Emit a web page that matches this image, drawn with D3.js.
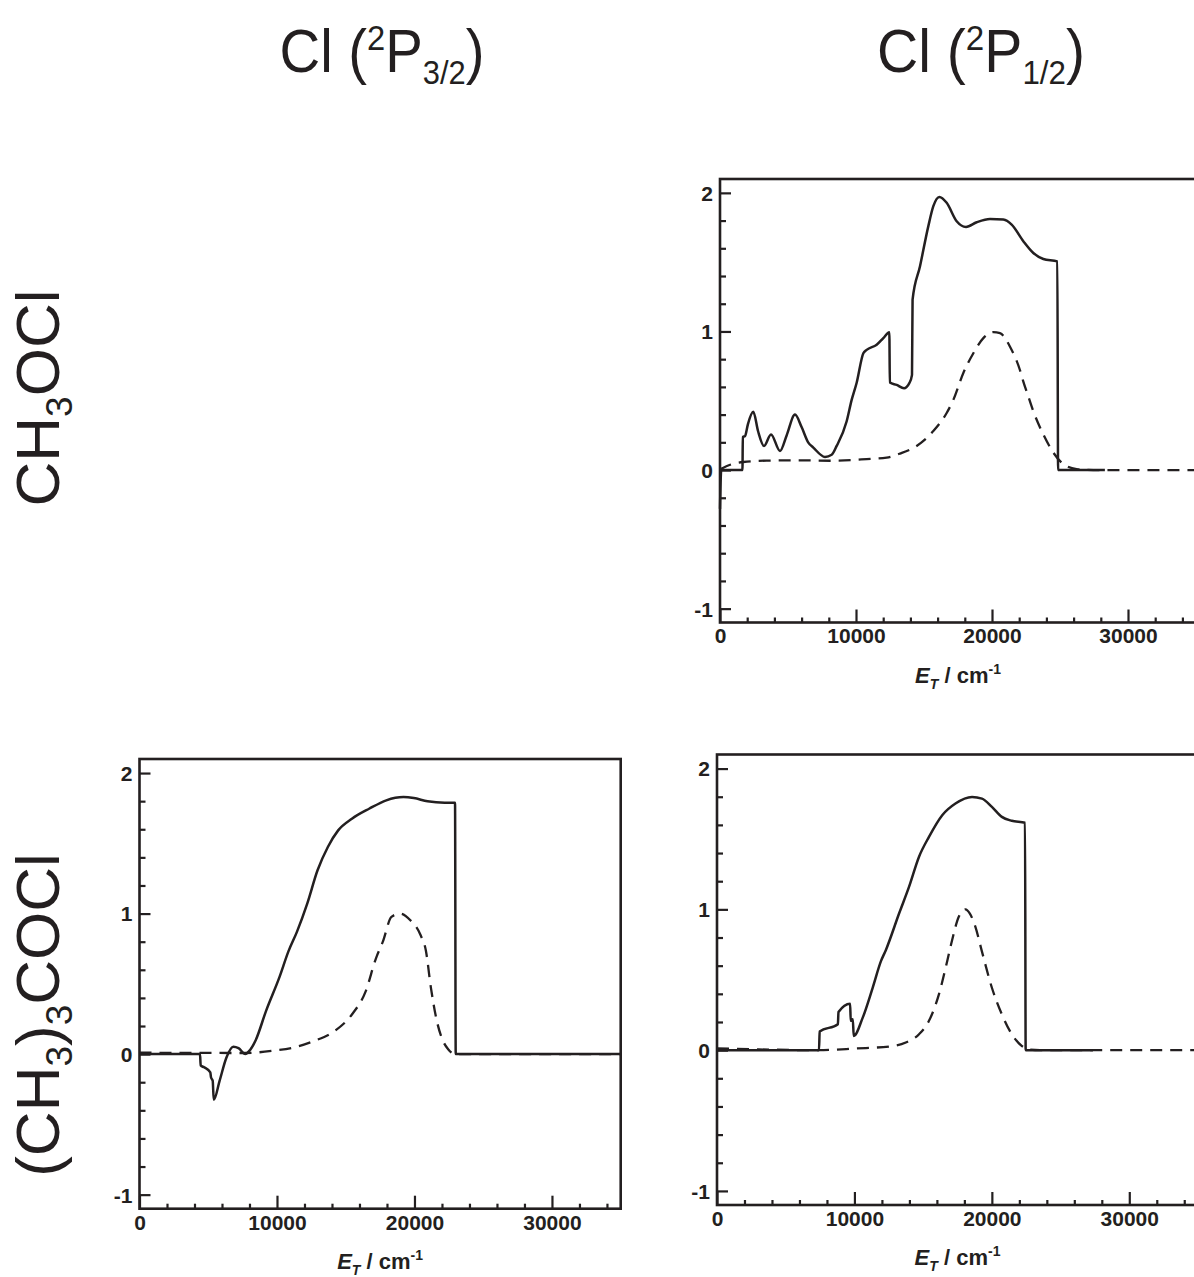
<!DOCTYPE html>
<html><head><meta charset="utf-8">
<script src="https://cdn.jsdelivr.net/npm/d3@7"></script>
<style>body{margin:0;background:#fff} svg{display:block}</style>
</head><body>
<svg id="c" width="1194" height="1277"></svg>
<script>
// ---------- data ----------
const xDomain = [0, 35000];
const yDomain = [-1.1, 2.1];
const xMajorTicks = [0, 10000, 20000, 30000];
const xTickLabels = ["0", "10000", "20000", "30000"];
const yMajorTicks = [-1, 0, 1, 2];
const yTickLabels = ["-1", "0", "1", "2"];
const xMinorTicks = [2000,4000,6000,8000,12000,14000,16000,18000,22000,24000,26000,28000,32000,34000];
const yMinorTicks = [-0.8,-0.6,-0.4,-0.2,0.2,0.4,0.6,0.8,1.2,1.4,1.6,1.8];

const colTitles = [
  {lead: "Cl (", sup: "2", mid: "P", sub: "3/2", tail: ")"},
  {lead: "Cl (", sup: "2", mid: "P", sub: "1/2", tail: ")"}
];
const rowTitles = [
  [["CH",0],["3",1],["OCl",0]],
  [["(CH",0],["3",1],[")",0],["3",1],["COCl",0]]
];

// CH3OCl, Cl(2P1/2)
const trSolid = [[0,-0.28],[90,0],[1650,0],[1680,0.238],[1840,0.245],[2050,0.33],[2450,0.42],[2800,0.28],[3235,0.174],[3750,0.257],[4412,0.138],[4900,0.25],[5515,0.40],[6000,0.31],[6495,0.198],[6863,0.162],[7721,0.095],[8211,0.11],[8579,0.174],[9314,0.352],[9681,0.506],[10049,0.63],[10539,0.843],[10784,0.867],[11520,0.904],[12010,0.952],[12451,0.995],[12490,0.631],[12990,0.614],[13530,0.59],[13922,0.627],[14118,0.687],[14160,1.229],[14706,1.47],[15319,1.76],[15686,1.904],[16128,1.971],[16667,1.928],[17402,1.795],[18089,1.754],[18873,1.788],[19853,1.812],[20834,1.807],[21446,1.771],[22304,1.651],[23039,1.566],[23775,1.523],[24804,1.506],[24860,0],[28300,0]];
const trDashed = [[0,0.005],[800,0.04],[1716,0.058],[3431,0.068],[5882,0.07],[8333,0.067],[10784,0.079],[12255,0.09],[13235,0.119],[14461,0.174],[15686,0.281],[16667,0.412],[17157,0.506],[17892,0.70],[18628,0.843],[19363,0.952],[20098,0.995],[20588,0.988],[21324,0.89],[22059,0.72],[22304,0.638],[22672,0.53],[23039,0.424],[23775,0.257],[24510,0.126],[25245,0.043],[26226,0.007],[27451,0],[35000,0]];

// (CH3)3COCl, Cl(2P3/2)
const blSolid = [[0,0],[4400,0],[4450,-0.08],[4700,-0.094],[5150,-0.13],[5200,-0.165],[5325,-0.19],[5400,-0.325],[5825,-0.19],[6325,-0.024],[6825,0.052],[7200,0.042],[7700,0.0],[7950,0.019],[8450,0.099],[9200,0.306],[10200,0.553],[10825,0.729],[11450,0.87],[12200,1.071],[12950,1.308],[13700,1.474],[14450,1.592],[15450,1.675],[16700,1.746],[17950,1.806],[19200,1.829],[19950,1.822],[20950,1.799],[22200,1.789],[22950,1.789],[23000,0],[35000,0]];
const blDashed = [[0,0.01],[7700,0.008],[9700,0.024],[11200,0.047],[12700,0.094],[14200,0.165],[15450,0.282],[16450,0.447],[17200,0.682],[17700,0.80],[18325,0.976],[18950,1.0],[19700,0.953],[20450,0.846],[20825,0.739],[21200,0.47],[21575,0.259],[22075,0.094],[22450,0.035],[22950,0],[35000,0]];

// (CH3)3COCl, Cl(2P1/2)
const brSolid = [[0,0],[7423,0],[7470,0.132],[8797,0.184],[8840,0.271],[9688,0.33],[9730,0.208],[9881,0.219],[9950,0.101],[10604,0.231],[11327,0.443],[11930,0.632],[12291,0.712],[13255,0.972],[13978,1.161],[14701,1.374],[15424,1.515],[16388,1.669],[17352,1.752],[18557,1.799],[19280,1.787],[20003,1.728],[20726,1.657],[21449,1.629],[22413,1.615],[22461,0],[27354,0]];
const brDashed = [[0,0.012],[3000,0.005],[7400,0.0],[10122,0.012],[12532,0.026],[13737,0.054],[14701,0.113],[15424,0.208],[16147,0.396],[16750,0.632],[17111,0.783],[17593,0.948],[18075,1.0],[18400,0.97],[18798,0.877],[19280,0.70],[20003,0.443],[20726,0.255],[21449,0.113],[22172,0.031],[22654,0.005],[23500,0],[35000,0]];

// ---------- layout ----------
const INK = "#231f20";
const FONT = "'Liberation Sans', Arial, Helvetica, sans-serif";
const panels = [
  {left: 720, right: 1196, top: 179, bottom: 622.5, solid: trSolid, dashed: trDashed},
  {left: 139.5, right: 620.7, top: 759, bottom: 1208.7, solid: blSolid, dashed: blDashed},
  {left: 717, right: 1198, top: 754.5, bottom: 1205, solid: brSolid, dashed: brDashed}
];

const svg = d3.select("#c");
svg.append("rect").attr("width",1194).attr("height",1277).attr("fill","#fff");

panels.forEach(p => {
  const x = d3.scaleLinear().domain(xDomain).range([p.left, p.right]);
  const y = d3.scaleLinear().domain(yDomain).range([p.bottom, p.top]);
  const g = svg.append("g");
  const line = d3.line().x(d => x(d[0])).y(d => y(d[1])).curve(d3.curveMonotoneX);

  g.append("path").datum(p.dashed).attr("d", line).attr("fill","none")
    .attr("stroke", INK).attr("stroke-width", 2.3).attr("stroke-dasharray","12,8");
  g.append("path").datum(p.solid).attr("d", line).attr("fill","none")
    .attr("stroke", INK).attr("stroke-width", 2.5).attr("stroke-linejoin","round");

  // x axis
  const xa = g.append("g").attr("transform", `translate(0,${p.bottom})`)
    .call(d3.axisBottom(x).tickValues(xMajorTicks).tickSize(-13).tickPadding(6)
      .tickFormat((d,i) => xTickLabels[i]));
  const xm = g.append("g").attr("transform", `translate(0,${p.bottom})`)
    .call(d3.axisBottom(x).tickValues(xMinorTicks).tickSize(-5).tickFormat(""));
  // y axis
  const ya = g.append("g").attr("transform", `translate(${p.left},0)`)
    .call(d3.axisLeft(y).tickValues(yMajorTicks).tickSize(-11).tickPadding(7)
      .tickFormat((d,i) => yTickLabels[i]));
  const ym = g.append("g").attr("transform", `translate(${p.left},0)`)
    .call(d3.axisLeft(y).tickValues(yMinorTicks).tickSize(-6).tickFormat(""));
  [xa,xm,ya,ym].forEach(a => {
    a.select(".domain").remove();
    a.selectAll("line").attr("stroke", INK).attr("stroke-width", 2.2);
    a.selectAll("text").attr("fill", INK).attr("font-family", FONT)
      .attr("font-weight","bold").attr("font-size", 21);
  });
  ya.selectAll("text").attr("dy","0.35em");

  // frame
  g.append("rect").attr("x", p.left).attr("y", p.top)
    .attr("width", p.right - p.left).attr("height", p.bottom - p.top)
    .attr("fill","none").attr("stroke", INK).attr("stroke-width", 2.6);

  // axis title
  const t = g.append("text").attr("x", (p.left + p.right)/2).attr("y", p.bottom + 60)
    .attr("text-anchor","middle").attr("font-family", FONT).attr("font-weight","bold")
    .attr("font-size", 22).attr("fill", INK);
  t.append("tspan").attr("font-style","italic").text("E");
  t.append("tspan").attr("font-style","italic").attr("font-size",14).attr("dy",6).text("T");
  t.append("tspan").attr("dy",-6).text(" / cm");
  t.append("tspan").attr("font-size",14).attr("dy",-9).text("-1");
});

// column titles
const colCenters = [382, 981];
const colWidths = [205, 208];
colTitles.forEach((c, i) => {
  const g = svg.append("g");
  const t = g.append("text").attr("x", 0).attr("y", 0)
    .attr("font-family", FONT).attr("font-size", 62).attr("fill", INK);
  t.append("tspan").text(c.lead);
  t.append("tspan").attr("font-size", 36).attr("dy", -22).text(c.sup);
  t.append("tspan").attr("dy", 22).text(c.mid);
  t.append("tspan").attr("font-size", 34).attr("dy", 12).text(c.sub);
  t.append("tspan").attr("dy", -12).text(c.tail);
  const w = t.node().getComputedTextLength();
  const s = colWidths[i] / w;
  g.attr("transform", `translate(${colCenters[i] - colWidths[i]/2},72) scale(${s},1)`);
});

// row titles (rotated)
const rowCenters = [398, 1015];
rowTitles.forEach((parts, i) => {
  const t = svg.append("text")
    .attr("transform", `translate(59,${rowCenters[i]}) rotate(-90)`)
    .attr("text-anchor","middle").attr("font-family", FONT).attr("font-size", 62).attr("fill", INK);
  let prev = 0;
  parts.forEach(([txt, sub]) => {
    const off = sub ? 13 : 0;
    t.append("tspan").attr("font-size", sub ? 37 : 62).attr("dy", off - prev).text(txt);
    prev = off;
  });
});
</script>
</body></html>
